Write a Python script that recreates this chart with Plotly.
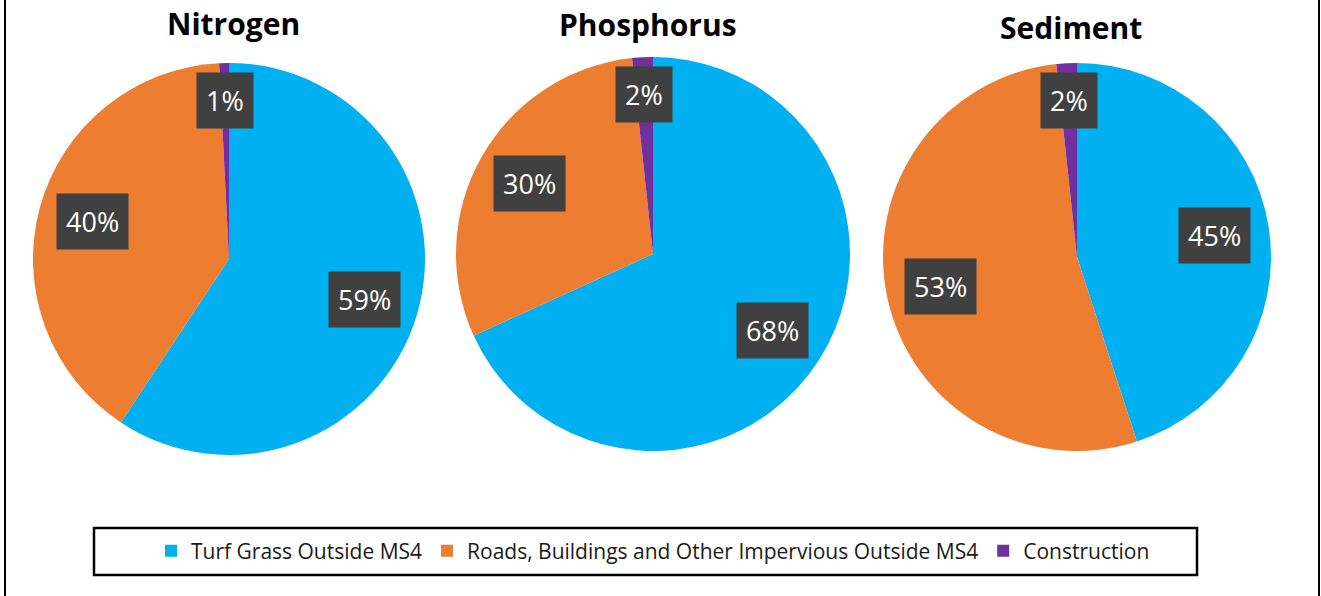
import math
import plotly.graph_objects as go

W, H = 1321, 596

sources = ["Turf Grass Outside MS4", "Roads, Buildings and Other Impervious Outside MS4", "Construction"]
colors = ["#00B0F0", "#ED7D31", "#7030A0"]

pollutants = ["Nitrogen", "Phosphorus", "Sediment"]
nitrogen = [59.3, 39.9, 0.8]
phosphorus = [68.2, 30.1, 1.7]
sediment = [45.0, 53.3, 1.7]

# pie centre (px) and radius (px) for each chart
pies = [(229, 259, 196), (653, 254, 197), (1077, 257, 194)]
title_pos = [(233, 23), (648, 25), (1071, 27)]


def px(x):
    return x / W


def py(y):
    return 1 - y / H


fig = go.Figure()
annotations = []

for i, (name, vals) in enumerate(zip(pollutants, [nitrogen, phosphorus, sediment])):
    cx, cy, r = pies[i]
    fig.add_trace(go.Pie(
        labels=sources, values=vals, sort=False, direction="clockwise", rotation=0,
        marker=dict(colors=colors, line=dict(width=0)),
        textinfo="none", hoverinfo="label+percent",
        domain=dict(x=[px(cx - r), px(cx + r)], y=[py(cy + r), py(cy - r)]),
        showlegend=(i == 0), name=name,
    ))
    # data labels in dark boxes
    total = sum(vals)
    start = 0
    for v in vals:
        frac = v / total
        mid = (start + frac / 2) * 2 * math.pi
        start += frac
        rr = 0.81 if frac < 0.05 else 0.72
        lx = cx + rr * r * math.sin(mid)
        ly = cy - rr * r * math.cos(mid)
        annotations.append(dict(
            x=px(lx), y=py(ly), xref="paper", yref="paper", showarrow=False,
            xanchor="center", yanchor="middle",
            text=f"{round(frac * 100)}%", font=dict(size=27, color="white", family="Open Sans"),
            bgcolor="#404040", borderpad=9,
        ))
    tx, ty = title_pos[i]
    annotations.append(dict(
        x=px(tx), y=py(ty), xref="paper", yref="paper", showarrow=False,
        xanchor="center", yanchor="middle",
        text=f"<b>{name}</b>", font=dict(size=30, color="black", family="Open Sans"),
    ))

shapes = [
    dict(type="rect", xref="paper", yref="paper", x0=px(94), x1=px(1197), y0=py(575), y1=py(528),
         line=dict(color="black", width=2.5)),
    dict(type="line", xref="paper", yref="paper", x0=px(5), x1=px(5), y0=0, y1=1,
         line=dict(color="black", width=2)),
    dict(type="line", xref="paper", yref="paper", x0=px(1319), x1=px(1319), y0=0, y1=1,
         line=dict(color="black", width=2)),
]

fig.update_layout(
    width=W, height=H, margin=dict(l=0, r=0, t=0, b=0),
    paper_bgcolor="white", plot_bgcolor="white",
    font=dict(family="Open Sans", color="#1a1a1a"),
    annotations=annotations, shapes=shapes,
    legend=dict(orientation="h", x=px(151), xanchor="left", y=py(551), yanchor="middle",
                font=dict(size=21, color="#1a1a1a"), bgcolor="rgba(0,0,0,0)", borderwidth=0,
                traceorder="normal"),
)

fig.write_html("out.html", config={"displayModeBar": False},
               post_script="document.body.style.margin='0px';")
